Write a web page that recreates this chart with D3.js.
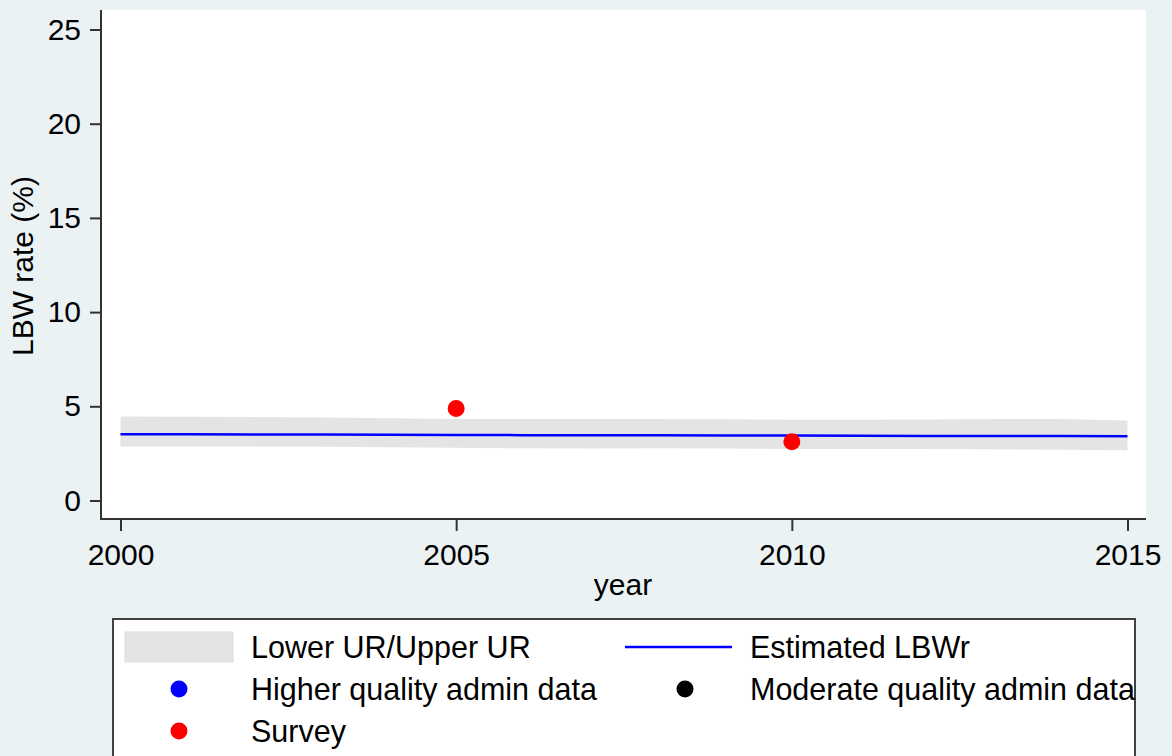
<!DOCTYPE html>
<html>
<head>
<meta charset="utf-8">
<script src="https://cdn.jsdelivr.net/npm/d3@7"></script>
<style>
  body { margin: 0; background: #eaf2f3; }
  text { font-family: "Liberation Sans", Arial, sans-serif; fill: #000; }
</style>
</head>
<body>
<svg id="chart"></svg>
<script>
// data
var years    = [2000, 2001, 2002, 2003, 2004, 2005, 2006, 2007, 2008, 2009, 2010, 2011, 2012, 2013, 2014, 2015];
var estimate = [3.52, 3.51, 3.50, 3.50, 3.49, 3.48, 3.47, 3.47, 3.46, 3.45, 3.45, 3.44, 3.43, 3.43, 3.42, 3.41];
var upperUR  = [4.46, 4.45, 4.43, 4.40, 4.36, 4.33, 4.32, 4.32, 4.33, 4.31, 4.29, 4.29, 4.30, 4.33, 4.33, 4.25];
var lowerUR  = [2.87, 2.87, 2.86, 2.85, 2.82, 2.80, 2.77, 2.76, 2.77, 2.76, 2.74, 2.73, 2.73, 2.72, 2.70, 2.67];

var surveyYears  = [2005, 2010];
var surveyValues = [4.88, 3.12];

var xTicks = [2000, 2005, 2010, 2015];
var yTicks = [0, 5, 10, 15, 20, 25];

var legendLabels = ["Lower UR/Upper UR", "Estimated LBWr", "Higher quality admin data",
                    "Moderate quality admin data", "Survey"];

// set the dimensions of the page
var width = 1172, height = 756;
var plot = {left: 101, right: 1146, top: 10, bottom: 519};

var svg = d3.select("#chart")
    .attr("width", width)
    .attr("height", height);

svg.append("rect")
    .attr("width", width).attr("height", height)
    .attr("fill", "#eaf2f3");

// scales
var x = d3.scaleLinear().domain([2000, 2015]).range([120.5, 1127.5]);
var y = d3.scaleLinear().domain([0, 25]).range([500.5, 29.5]);

// white plot region
svg.append("rect")
    .attr("x", plot.left).attr("y", plot.top)
    .attr("width", plot.right - plot.left)
    .attr("height", plot.bottom - plot.top)
    .attr("fill", "#fff");

var rows = years.map(function(d, i) {
  return {year: d, est: estimate[i], lo: lowerUR[i], hi: upperUR[i]};
});

// uncertainty band
svg.append("path")
    .datum(rows)
    .attr("fill", "#e4e4e4")
    .attr("d", d3.area()
      .x(function(d) { return x(d.year); })
      .y0(function(d) { return y(d.lo); })
      .y1(function(d) { return y(d.hi); }));

// estimated line
svg.append("path")
    .datum(rows)
    .attr("fill", "none")
    .attr("stroke", "#0000ff")
    .attr("stroke-width", 2.5)
    .attr("d", d3.line()
      .x(function(d) { return x(d.year); })
      .y(function(d) { return y(d.est); }));

// survey points
svg.selectAll(".survey")
    .data(surveyYears)
  .enter().append("circle")
    .attr("class", "survey")
    .attr("cx", function(d) { return x(d); })
    .attr("cy", function(d, i) { return y(surveyValues[i]); })
    .attr("r", 8.5)
    .attr("fill", "#ff0000");

// axes
var yAxis = svg.append("g")
    .attr("transform", "translate(" + plot.left + ",0)")
    .call(d3.axisLeft(y).tickValues(yTicks).tickSize(11).tickPadding(9).tickSizeOuter(0));
var xAxis = svg.append("g")
    .attr("transform", "translate(0," + plot.bottom + ")")
    .call(d3.axisBottom(x).tickValues(xTicks).tickFormat(d3.format("d"))
      .tickSize(12).tickPadding(13).tickSizeOuter(0));

[yAxis, xAxis].forEach(function(g) {
  g.select(".domain").remove();
  g.selectAll(".tick line").attr("stroke", "#333").attr("stroke-width", 2);
  g.selectAll(".tick text")
    .style("font-size", "30px")
    .style("font-family", "'Liberation Sans', Arial, sans-serif")
    .attr("fill", "#000");
});

svg.append("path")
    .attr("d", "M" + plot.left + "," + plot.top + "V" + plot.bottom + "H" + plot.right)
    .attr("fill", "none")
    .attr("stroke", "#333")
    .attr("stroke-width", 2);

// axis titles
svg.append("text")
    .attr("transform", "translate(33," + 266 + ") rotate(-90)")
    .attr("text-anchor", "middle")
    .style("font-size", "30px")
    .text("LBW rate (%)");

svg.append("text")
    .attr("x", 623).attr("y", 595)
    .attr("text-anchor", "middle")
    .style("font-size", "30px")
    .text("year");

// legend
svg.append("rect")
    .attr("x", 113).attr("y", 619)
    .attr("width", 1022).attr("height", 200)
    .attr("fill", "#fff")
    .attr("stroke", "#404040")
    .attr("stroke-width", 2);

var legend = [
  {col: 0, row: 0, type: "area"},
  {col: 1, row: 0, type: "line"},
  {col: 0, row: 1, type: "dot", color: "#0000ff"},
  {col: 1, row: 1, type: "dot", color: "#000000"},
  {col: 0, row: 2, type: "dot", color: "#ff0000"}
];
var keyX = [125, 625], textX = [251, 750], rowY = [647, 689, 731];

var item = svg.selectAll(".legend-item")
    .data(legend)
  .enter().append("g")
    .attr("class", "legend-item")
    .attr("transform", function(d) {
      return "translate(" + keyX[d.col] + "," + rowY[d.row] + ")"; });

item.filter(function(d) { return d.type == "area"; })
  .append("rect")
    .attr("x", 0).attr("y", -15)
    .attr("width", 108).attr("height", 30)
    .attr("fill", "#e4e4e4")
    .attr("stroke", "#dedede");

item.filter(function(d) { return d.type == "line"; })
  .append("line")
    .attr("x1", 0).attr("x2", 107)
    .attr("stroke", "#0000ff")
    .attr("stroke-width", 2.5);

item.filter(function(d) { return d.type == "dot"; })
  .append("circle")
    .attr("cx", function(d) { return d.col == 0 ? 54 : 60; })
    .attr("r", 8.5)
    .attr("fill", function(d) { return d.color; });

item.append("text")
    .attr("x", function(d) { return textX[d.col] - keyX[d.col]; })
    .attr("y", 11)
    .style("font-size", "30.5px")
    .text(function(d, i) { return legendLabels[i]; });
</script>
</body>
</html>
